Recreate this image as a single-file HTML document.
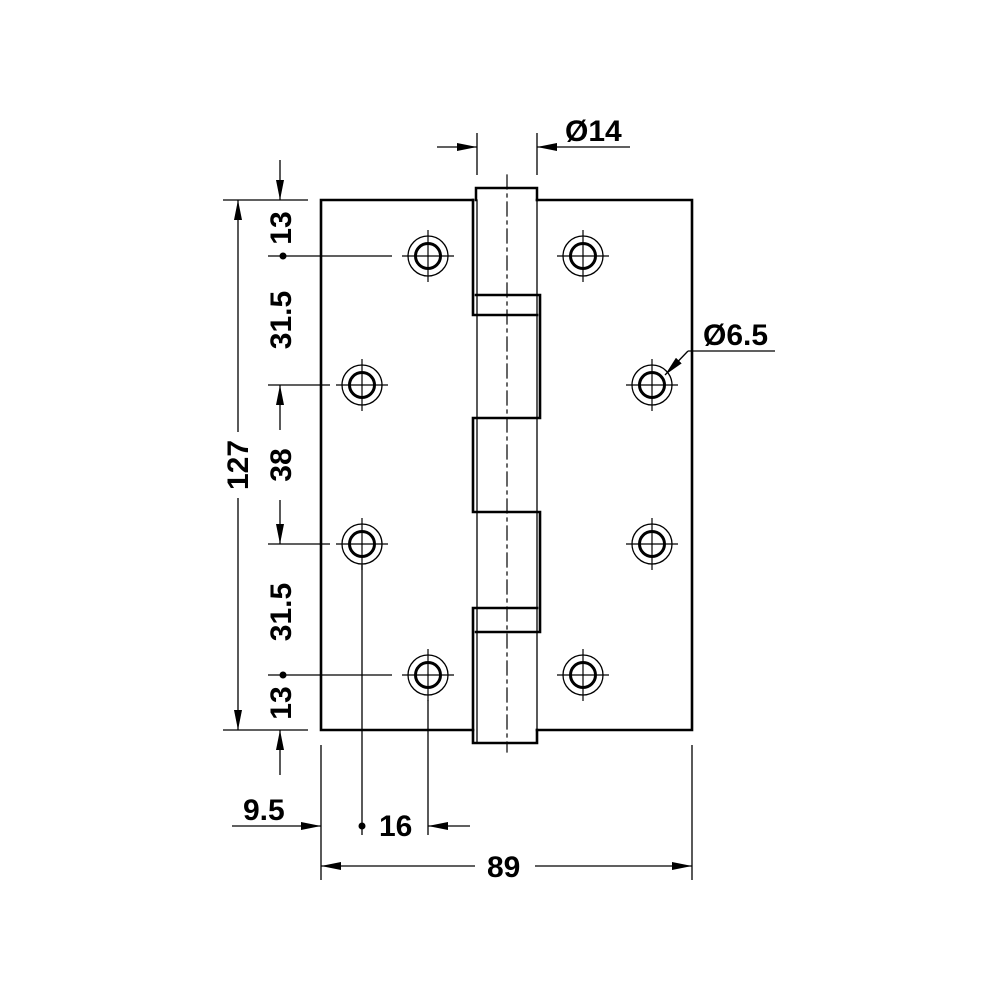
<!DOCTYPE html>
<html><head><meta charset="utf-8"><style>html,body{margin:0;padding:0;background:#fff}</style></head>
<body>
<svg width="1000" height="1000" viewBox="0 0 1000 1000" xmlns="http://www.w3.org/2000/svg">
<defs>
<marker id="a" viewBox="0 0 20 8" refX="20" refY="4" markerWidth="20" markerHeight="8" markerUnits="userSpaceOnUse" orient="auto-start-reverse"><path d="M0,0 L20,4 L0,8 z" fill="#000"/></marker>
<g id="h"><circle r="20" fill="none" stroke="#000" stroke-width="1.3"/><circle r="12.5" fill="none" stroke="#000" stroke-width="3"/><path d="M-26,0H26M0,-26V26" stroke="#000" stroke-width="1.2"/></g>
</defs>
<g fill="none" stroke="#000" stroke-linecap="square">
<path d="M473,200 H321 V730 H473" stroke-width="2.6"/>
<path d="M537,200 H692 V730 H537" stroke-width="2.6"/>
<path d="M476,200 V188 H537 V200" stroke-width="2.5"/>
<path d="M473,200 V315 H537" stroke-width="2.6"/>
<path d="M476,295 H540 V418 H473 V512 H540 V632 H476" stroke-width="2.6"/>
<path d="M473,608 H537 M473,608 V743 H537 V730" stroke-width="2.6"/>
<path d="M477,200 V743 M537,188 V743" stroke-width="1.3"/>
<path d="M507,175 V752" stroke-width="1.2" stroke-dasharray="14,5,3,5"/>
</g>
<use href="#h" x="428" y="256"/><use href="#h" x="583" y="256"/>
<use href="#h" x="362" y="385"/><use href="#h" x="652" y="385"/>
<use href="#h" x="362" y="544"/><use href="#h" x="652" y="544"/>
<use href="#h" x="428" y="675"/><use href="#h" x="583" y="675"/>
<g stroke="#000" stroke-width="1.3" fill="none">
<path d="M477,133 V175 M537,133 V175"/>
<path d="M437,147 H477" marker-end="url(#a)"/>
<path d="M630,147 H537" marker-end="url(#a)"/>
<path d="M223,200 H308 M223,730 H308"/>
<path d="M238,432 V200" marker-end="url(#a)"/>
<path d="M238,498 V730" marker-end="url(#a)"/>
<path d="M280,160 V200" marker-end="url(#a)"/>
<path d="M268,256 H392 M268,385 H330 M268,544 H330 M268,675 H392"/>
<path d="M280,430 V385" marker-end="url(#a)"/>
<path d="M280,500 V544" marker-end="url(#a)"/>
<path d="M280,775 V730" marker-end="url(#a)"/>
<path d="M321,745 V880 M692,745 V880 M362,565 V835 M428,700 V835"/>
<path d="M232,826 H321" marker-end="url(#a)"/>
<path d="M470,826 H428" marker-end="url(#a)"/>
<path d="M475,866 H321" marker-end="url(#a)"/>
<path d="M535,866 H692" marker-end="url(#a)"/>
<path d="M775,351 H688"/>
<path d="M688,351 L665,375" marker-end="url(#a)"/>
</g>
<circle cx="283" cy="256" r="3.5"/><circle cx="283" cy="675" r="3.5"/><circle cx="362" cy="826" r="3.5"/>
<g font-family="Liberation Sans, sans-serif" font-weight="bold" font-size="30" fill="#000">
<text x="565" y="141">Ø14</text>
<text x="703" y="345">Ø6.5</text>
<text x="243" y="820">9.5</text>
<text x="379" y="836">16</text>
<text x="487" y="877">89</text>
<g text-anchor="middle">
<text transform="translate(248,465) rotate(-90)">127</text>
<text transform="translate(291,228) rotate(-90)">13</text>
<text transform="translate(291,320) rotate(-90)">31.5</text>
<text transform="translate(291,465) rotate(-90)">38</text>
<text transform="translate(291,612) rotate(-90)">31.5</text>
<text transform="translate(291,703) rotate(-90)">13</text>
</g>
</g>
</svg>
</body></html>
